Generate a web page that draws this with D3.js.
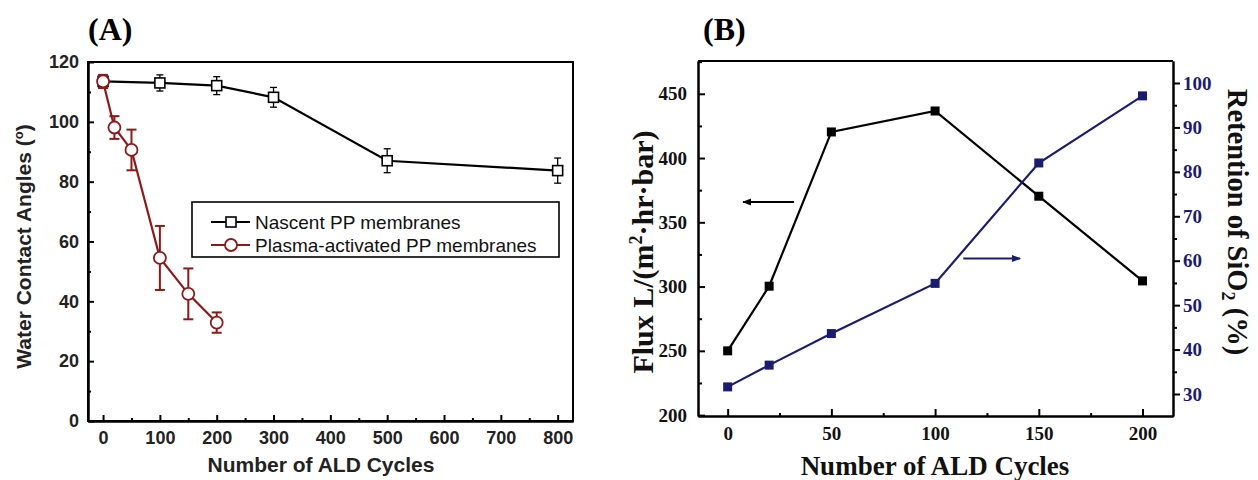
<!DOCTYPE html>
<html>
<head>
<meta charset="utf-8">
<script src="https://cdn.jsdelivr.net/npm/d3@7"></script>
<style>
  body { margin: 0; background: #fff; }
  svg { display: block; }
  .sans text { font-family: "Liberation Sans", Arial, sans-serif; }
  .serif text { font-family: "Liberation Serif", "Times New Roman", serif; }
  .axis path, .axis line { stroke: #000; stroke-width: 2; }
</style>
</head>
<body>
<div id="chart"></div>
<script>
// panel A: water contact angle
const cyclesNascent = [0, 100, 200, 300, 500, 800]
const angleNascent = [113.5, 113, 112.1, 108.2, 87, 83.7]
const errNascent = [2, 2.7, 3, 3.3, 4, 4.2]
const cyclesPlasma = [0, 20, 50, 100, 150, 200]
const anglePlasma = [113.5, 98.1, 90.6, 54.5, 42.5, 32.9]
const errPlasma = [2.2, 3.8, 6.8, 10.7, 8.5, 3.4]
const ticksAx = [0, 100, 200, 300, 400, 500, 600, 700, 800]
const minorAx = [50, 150, 250, 350, 450, 550, 650, 750]
const ticksAy = [0, 20, 40, 60, 80, 100, 120]
const minorAy = [10, 30, 50, 70, 90, 110]
const legendA = ["Nascent PP membranes", "Plasma-activated PP membranes"]

// panel B: flux and retention
const cyclesB = [0, 20, 50, 100, 150, 200]
const flux = [250, 300.3, 420.3, 436.6, 370.3, 304.4]
const retention = [31.6, 36.5, 43.6, 54.9, 82.0, 97.1]
const ticksBx = [0, 50, 100, 150, 200]
const minorBx = [25, 75, 125, 175]
const ticksBy = [200, 250, 300, 350, 400, 450]
const minorBy = [225, 275, 325, 375, 425, 475]
const ticksBr = [30, 40, 50, 60, 70, 80, 90, 100]
const minorBr = [35, 45, 55, 65, 75, 85, 95]
// arrows: [x from, x to, y]
const arrowFlux = [32, 7.4, 365.8]
const arrowRet = [113.6, 141, 60.5]

const red = "#8b1a1a"
const navy = "#1c1c6e"

const svg = d3.select("#chart").append("svg")
  .attr("width", 1258)
  .attr("height", 480)

const defs = svg.append("defs")
;[["headBlack", "#000"], ["headNavy", navy]].forEach(([id, c]) => {
  defs.append("marker")
    .attr("id", id)
    .attr("viewBox", "0 0 10 10")
    .attr("refX", 9).attr("refY", 5)
    .attr("markerWidth", 4.5).attr("markerHeight", 4.5)
    .attr("orient", "auto")
    .append("path").attr("d", "M0,1 L10,5 L0,9 Z").attr("fill", c)
})

// ---------- panel A ----------
const A = {left: 88, right: 573, top: 62, bottom: 421}
const gA = svg.append("g").attr("class", "sans")

const xA = d3.scaleLinear().domain([-26.5, 827]).range([A.left, A.right])
const yA = d3.scaleLinear().domain([0, 120]).range([A.bottom, A.top])

gA.append("rect")
  .attr("x", A.left).attr("y", A.top)
  .attr("width", A.right - A.left).attr("height", A.bottom - A.top)
  .attr("fill", "none").attr("stroke", "#000").attr("stroke-width", 2)

gA.append("g").attr("class", "axis")
  .attr("transform", `translate(0,${A.bottom})`)
  .call(d3.axisBottom(xA).tickValues(minorAx).tickFormat("").tickSizeInner(-3).tickSizeOuter(0))
gA.append("g").attr("class", "axis")
  .attr("transform", `translate(${A.left},0)`)
  .call(d3.axisLeft(yA).tickValues(minorAy).tickFormat("").tickSizeInner(-3).tickSizeOuter(0))

const axAx = gA.append("g").attr("class", "axis")
  .attr("transform", `translate(0,${A.bottom})`)
  .call(d3.axisBottom(xA).tickValues(ticksAx).tickSizeInner(-6).tickSizeOuter(0).tickPadding(10))
axAx.selectAll("text").attr("font-size", 18).attr("font-weight", "bold").attr("fill", "#222")

const axAy = gA.append("g").attr("class", "axis")
  .attr("transform", `translate(${A.left},0)`)
  .call(d3.axisLeft(yA).tickValues(ticksAy).tickSizeInner(-6).tickSizeOuter(0).tickPadding(9))
axAy.selectAll("text").attr("font-size", 18).attr("font-weight", "bold").attr("fill", "#222")

gA.append("text")
  .attr("x", 321).attr("y", 472)
  .attr("text-anchor", "middle")
  .attr("font-size", 21).attr("font-weight", "bold").attr("fill", "#222")
  .text("Number of ALD Cycles")

const yTitleA = gA.append("text")
  .attr("transform", `translate(31,${(A.top + A.bottom) / 2 + 5}) rotate(-90)`)
  .attr("text-anchor", "middle")
  .attr("font-size", 21).attr("font-weight", "bold").attr("fill", "#222")
yTitleA.append("tspan").text("Water Contact Angles (")
yTitleA.append("tspan").attr("font-size", 13).attr("dy", -8).text("o")
yTitleA.append("tspan").attr("dy", 8).text(")")

svg.append("text")
  .attr("x", 88).attr("y", 40)
  .attr("font-family", "Liberation Serif, serif")
  .attr("font-size", 32).attr("font-weight", "bold")
  .text("(A)")

function drawSeries(g, xs, ys, errs, color, shape) {
  const line = d3.line().x((d, i) => xA(xs[i])).y(d => yA(d))
  g.append("path").datum(ys)
    .attr("d", line)
    .attr("fill", "none").attr("stroke", color).attr("stroke-width", 2.2)
  const cap = shape === "square" ? 3.5 : 5
  const w = shape === "square" ? 1.3 : 2
  ys.forEach((v, i) => {
    const x = xA(xs[i])
    const y1 = yA(v + errs[i]), y2 = yA(v - errs[i])
    g.append("line").attr("x1", x).attr("x2", x).attr("y1", y1).attr("y2", y2)
      .attr("stroke", color).attr("stroke-width", w)
    ;[y1, y2].forEach(yy => g.append("line")
      .attr("x1", x - cap).attr("x2", x + cap).attr("y1", yy).attr("y2", yy)
      .attr("stroke", color).attr("stroke-width", w))
  })
  ys.forEach((v, i) => {
    const x = xA(xs[i]), y = yA(v)
    if (shape === "square") {
      g.append("rect").attr("x", x - 5).attr("y", y - 5).attr("width", 10).attr("height", 10)
        .attr("fill", "#fff").attr("stroke", color).attr("stroke-width", 1.6)
    } else {
      g.append("circle").attr("cx", x).attr("cy", y).attr("r", 6)
        .attr("fill", "#fff").attr("stroke", color).attr("stroke-width", 1.8)
    }
  })
}

drawSeries(gA.append("g"), cyclesNascent, angleNascent, errNascent, "#000", "square")
drawSeries(gA.append("g"), cyclesPlasma, anglePlasma, errPlasma, red, "circle")

// legend
const leg = gA.append("g")
leg.append("rect")
  .attr("x", 192).attr("y", 202).attr("width", 367).attr("height", 55)
  .attr("fill", "#fff").attr("stroke", "#000").attr("stroke-width", 1.6)
legendA.forEach((name, i) => {
  const y = 222 + i * 23
  const c = i === 0 ? "#000" : red
  leg.append("line").attr("x1", 211).attr("x2", 250).attr("y1", y).attr("y2", y)
    .attr("stroke", c).attr("stroke-width", 2.2)
  if (i === 0) {
    leg.append("rect").attr("x", 226).attr("y", y - 5).attr("width", 10).attr("height", 10)
      .attr("fill", "#fff").attr("stroke", c).attr("stroke-width", 1.6)
  } else {
    leg.append("circle").attr("cx", 231).attr("cy", y).attr("r", 6)
      .attr("fill", "#fff").attr("stroke", c).attr("stroke-width", 1.8)
  }
  leg.append("text").attr("x", 255).attr("y", y + 7)
    .attr("font-size", 19).attr("fill", "#111")
    .text(name)
})

// ---------- panel B ----------
const B = {left: 698, right: 1173, top: 61, bottom: 416}
const gB = svg.append("g").attr("class", "serif")

const xB = d3.scaleLinear().domain([-14.3, 214.7]).range([B.left, B.right])
const yB = d3.scaleLinear().domain([199.3, 475.5]).range([B.bottom, B.top])
const rB = d3.scaleLinear().domain([25.05, 104.95]).range([B.bottom, B.top])

gB.append("line")
  .attr("x1", B.left).attr("x2", B.right).attr("y1", B.top).attr("y2", B.top)
  .attr("stroke", "#000").attr("stroke-width", 2)

gB.append("g").attr("class", "axis")
  .attr("transform", `translate(0,${B.bottom})`)
  .call(d3.axisBottom(xB).tickValues(minorBx).tickFormat("").tickSizeInner(-3).tickSizeOuter(0))
gB.append("g").attr("class", "axis")
  .attr("transform", `translate(${B.left},0)`)
  .call(d3.axisLeft(yB).tickValues(minorBy).tickFormat("").tickSizeInner(-4).tickSizeOuter(0))

const axBx = gB.append("g").attr("class", "axis")
  .attr("transform", `translate(0,${B.bottom})`)
  .call(d3.axisBottom(xB).tickValues(ticksBx).tickSizeInner(-7).tickSizeOuter(0).tickPadding(11))
axBx.selectAll("text").attr("font-size", 19).attr("font-weight", "bold").attr("fill", "#111")

const axBy = gB.append("g").attr("class", "axis")
  .attr("transform", `translate(${B.left},0)`)
  .call(d3.axisLeft(yB).tickValues(ticksBy).tickSizeInner(-7).tickSizeOuter(0).tickPadding(11))
axBy.selectAll("text").attr("font-size", 19).attr("font-weight", "bold").attr("fill", "#111")

const rMinor = gB.append("g").attr("class", "axis")
  .attr("transform", `translate(${B.right},0)`)
  .call(d3.axisRight(rB).tickValues(minorBr).tickFormat("").tickSizeInner(4).tickSizeOuter(0))
const axBr = gB.append("g").attr("class", "axis")
  .attr("transform", `translate(${B.right},0)`)
  .call(d3.axisRight(rB).tickValues(ticksBr).tickSizeInner(7).tickSizeOuter(0).tickPadding(3))
axBr.selectAll("text").attr("font-size", 19).attr("font-weight", "bold").attr("fill", navy)
;[rMinor, axBr].forEach(a => a.selectAll("path, line").attr("stroke", navy))

gB.append("text")
  .attr("x", 935).attr("y", 475)
  .attr("text-anchor", "middle")
  .attr("font-size", 27).attr("font-weight", "bold").attr("fill", "#111")
  .text("Number of ALD Cycles")

const yTitleB = gB.append("text")
  .attr("transform", `translate(653,252) rotate(-90)`)
  .attr("text-anchor", "middle")
  .attr("font-size", 30).attr("font-weight", "bold").attr("fill", "#111")
yTitleB.append("tspan").text("Flux L/(m")
yTitleB.append("tspan").attr("font-size", 18).attr("dy", -11).text("2")
yTitleB.append("tspan").attr("dy", 11).text("·hr·bar)")

const rTitleB = gB.append("text")
  .attr("transform", `translate(1228,222) rotate(90)`)
  .attr("text-anchor", "middle")
  .attr("font-size", 28.5).attr("font-weight", "bold").attr("fill", "#111")
rTitleB.append("tspan").text("Retention of SiO")
rTitleB.append("tspan").attr("font-size", 18).attr("dy", 6).text("2")
rTitleB.append("tspan").attr("dy", -6).text(" (%)")

svg.append("text")
  .attr("x", 703).attr("y", 40)
  .attr("font-family", "Liberation Serif, serif")
  .attr("font-size", 32).attr("font-weight", "bold")
  .text("(B)")

const lineFlux = d3.line().x((d, i) => xB(cyclesB[i])).y(d => yB(d))
const lineRet = d3.line().x((d, i) => xB(cyclesB[i])).y(d => rB(d))

gB.append("path").datum(flux).attr("d", lineFlux)
  .attr("fill", "none").attr("stroke", "#000").attr("stroke-width", 2.2)
gB.append("path").datum(retention).attr("d", lineRet)
  .attr("fill", "none").attr("stroke", navy).attr("stroke-width", 2.2)

gB.selectAll(".ptFlux").data(flux).enter().append("rect")
  .attr("x", (d, i) => xB(cyclesB[i]) - 4.5).attr("y", d => yB(d) - 4.5)
  .attr("width", 9).attr("height", 9).attr("fill", "#000")
gB.selectAll(".ptRet").data(retention).enter().append("rect")
  .attr("x", (d, i) => xB(cyclesB[i]) - 4.5).attr("y", d => rB(d) - 4.5)
  .attr("width", 9).attr("height", 9).attr("fill", navy)

gB.append("line")
  .attr("x1", xB(arrowFlux[0])).attr("x2", xB(arrowFlux[1]))
  .attr("y1", yB(arrowFlux[2])).attr("y2", yB(arrowFlux[2]))
  .attr("stroke", "#000").attr("stroke-width", 2).attr("marker-end", "url(#headBlack)")
gB.append("line")
  .attr("x1", xB(arrowRet[0])).attr("x2", xB(arrowRet[1]))
  .attr("y1", rB(arrowRet[2])).attr("y2", rB(arrowRet[2]))
  .attr("stroke", navy).attr("stroke-width", 2).attr("marker-end", "url(#headNavy)")
</script>
</body>
</html>
